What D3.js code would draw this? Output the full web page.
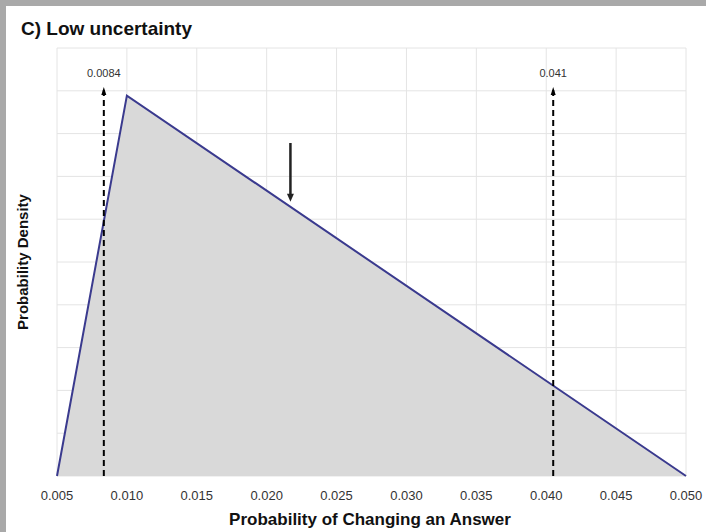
<!DOCTYPE html>
<html>
<head>
<meta charset="utf-8">
<script src="https://cdn.jsdelivr.net/npm/d3@7"></script>
<style>
  body { margin: 0; background: #fff; }
</style>
</head>
<body>
<script>
// data
const shapeX = [0.005, 0.010, 0.050]
const shapeY = [0, 44.44, 0]
const markers = [0.00835, 0.0405]
const markerLabels = ['0.0084', '0.041']
const meanX = 0.0217
const xTicks = [0.005, 0.010, 0.015, 0.020, 0.025, 0.030, 0.035, 0.040, 0.045, 0.050]
const yGrid = [0, 5, 10, 15, 20, 25, 30, 35, 40, 45, 50]

const W = 706, H = 532
const m = { left: 57, right: 686, top: 48, bottom: 476 }

const svg = d3.select('body').append('svg')
    .attr('width', W)
    .attr('height', H)
    .style('font-family', 'Arial, "Liberation Sans", sans-serif')

// grey frame along the top and left
svg.append('rect').attr('x', 0).attr('y', 0).attr('width', W).attr('height', H).attr('fill', '#a9a9a9')
svg.append('rect').attr('x', 6).attr('y', 6).attr('width', W - 6).attr('height', H - 6).attr('fill', '#fff')

svg.append('text')
    .attr('x', 21).attr('y', 35)
    .style('font-size', '19px').style('font-weight', 'bold')
    .attr('fill', '#111')
    .text('C) Low uncertainty')

const x = d3.scaleLinear().domain([0.005, 0.050]).range([m.left, m.right])
const y = d3.scaleLinear().domain([0, 50]).range([m.bottom, m.top])

// grid
svg.append('g').selectAll('line')
    .data(xTicks)
    .enter().append('line')
    .attr('x1', d => x(d)).attr('x2', d => x(d))
    .attr('y1', m.top).attr('y2', m.bottom)
    .attr('stroke', '#e4e4e4')
svg.append('g').selectAll('line')
    .data(yGrid)
    .enter().append('line')
    .attr('x1', m.left).attr('x2', m.right)
    .attr('y1', d => y(d)).attr('y2', d => y(d))
    .attr('stroke', '#e4e4e4')

const pts = shapeX.map((d, i) => [d, shapeY[i]])

svg.append('path')
    .datum(pts)
    .attr('fill', '#d9d9d9')
    .attr('d', d3.area().x(d => x(d[0])).y0(y(0)).y1(d => y(d[1])))

svg.append('path')
    .datum(pts)
    .attr('fill', 'none')
    .attr('stroke', '#3a3a8e')
    .attr('stroke-width', 2)
    .attr('d', d3.line().x(d => x(d[0])).y(d => y(d[1])))

// dashed percentile lines with small arrow heads
const mk = svg.append('g')
mk.selectAll('line')
    .data(markers)
    .enter().append('line')
    .attr('x1', d => x(d)).attr('x2', d => x(d))
    .attr('y1', m.bottom).attr('y2', 90)
    .attr('stroke', '#000')
    .attr('stroke-width', 2)
    .attr('stroke-dasharray', '6,4')
mk.selectAll('path')
    .data(markers)
    .enter().append('path')
    .attr('d', d => `M${x(d) - 2.5},${95} L${x(d)},${87} L${x(d) + 2.5},${95} Z`)
    .attr('fill', '#000')
mk.selectAll('text')
    .data(markers)
    .enter().append('text')
    .attr('x', d => x(d)).attr('y', 77)
    .attr('text-anchor', 'middle')
    .style('font-size', '11px')
    .attr('fill', '#333')
    .text((d, i) => markerLabels[i])

// arrow pointing at the mean
const meanY = d3.scaleLinear().domain(shapeX.slice(1)).range(shapeY.slice(1))(meanX)
svg.append('line')
    .attr('x1', x(meanX)).attr('x2', x(meanX))
    .attr('y1', 143).attr('y2', y(meanY) - 12)
    .attr('stroke', '#222').attr('stroke-width', 2.5)
svg.append('path')
    .attr('d', `M${x(meanX) - 3.5},${y(meanY) - 13} L${x(meanX)},${y(meanY) - 5} L${x(meanX) + 3.5},${y(meanY) - 13} Z`)
    .attr('fill', '#222')

// x axis labels
svg.append('g').selectAll('text')
    .data(xTicks)
    .enter().append('text')
    .attr('x', d => x(d)).attr('y', 500)
    .attr('text-anchor', 'middle')
    .style('font-size', '13px')
    .attr('fill', '#333')
    .text(d => d3.format('.3f')(d))

svg.append('text')
    .attr('x', 370).attr('y', 525)
    .attr('text-anchor', 'middle')
    .style('font-size', '17px').style('font-weight', 'bold')
    .attr('fill', '#111')
    .text('Probability  of Changing an Answer')

svg.append('text')
    .attr('transform', `translate(28,${(m.top + m.bottom) / 2}) rotate(-90)`)
    .attr('text-anchor', 'middle')
    .style('font-size', '15px').style('font-weight', 'bold')
    .attr('fill', '#111')
    .text('Probability  Density')
</script>
</body>
</html>
